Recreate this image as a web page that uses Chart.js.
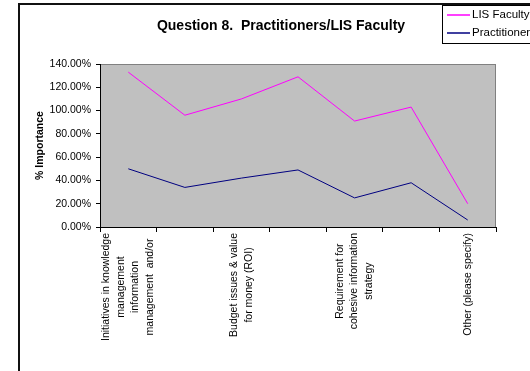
<!DOCTYPE html>
<html>
<head>
<meta charset="utf-8">
<script src="https://cdn.jsdelivr.net/npm/chart.js@4"></script>
<style>
  html, body { margin:0; padding:0; background:#fff; }
  #wrap { width:530px; height:371px; }
</style>
</head>
<body>
<div id="wrap"><canvas id="chartQ8"></canvas></div>
<script>
// Categorias (só 1, 3, 5 e 7 aparecem no eixo do original)
const categories = [
  ['Initiatives in knowledge', 'management', 'information', 'management  and/or'],
  '',
  ['Budget issues & value', 'for money (ROI)'],
  '',
  ['Requirement for', 'cohesive information', 'strategy'],
  '',
  ['Other (please specify)']
];
const seriesNames   = ['LIS Faculty', 'Practitioners'];
const lisFaculty    = [133, 96, 110, 129, 91, 103, 20];
const practitioners = [50, 34, 42, 49, 25, 38, 6];
const yMin = 0, yMax = 140, yStep = 20;
const titleText = 'Question 8.  Practitioners/LIS Faculty';
const yTitle = '% Importance';

// Paleta / fonte
const pink = '#FF00FF', navy = '#000080';
const FONT = '"Liberation Sans", Arial, sans-serif';

// Moldura, fundo cinza, título, legenda e rótulos do eixo X
const excelFrame = {
  id: 'excelFrame',
  beforeDraw(chart) {
    const { ctx, chartArea: a } = chart;
    ctx.save();
    ctx.fillStyle = '#C0C0C0';
    ctx.fillRect(a.left, a.top, a.right - a.left, a.bottom - a.top);
    ctx.strokeStyle = '#808080';
    ctx.lineWidth = 1;
    ctx.strokeRect(a.left + 0.5, a.top + 0.5, a.right - a.left - 1, a.bottom - a.top);
    ctx.restore();
  },
  afterDraw(chart) {
    const { ctx } = chart;
    const xs = chart.scales.x;
    ctx.save();

    // borda externa
    ctx.strokeStyle = '#111';
    ctx.lineWidth = 2;
    ctx.beginPath();
    ctx.moveTo(19, 371); ctx.lineTo(19, 4); ctx.lineTo(530, 4);
    ctx.stroke();

    // título
    ctx.fillStyle = '#000';
    ctx.font = 'bold 14px ' + FONT;
    ctx.textAlign = 'center';
    ctx.textBaseline = 'middle';
    ctx.fillText(titleText, 281, 26);

    // legenda
    ctx.lineWidth = 1;
    ctx.strokeStyle = '#000';
    ctx.strokeRect(442.5, 5.5, 100, 38);
    const cols = [pink, navy];
    ctx.font = '11.5px ' + FONT;
    ctx.textAlign = 'left';
    ctx.lineWidth = 1.5;
    seriesNames.forEach((name, i) => {
      const y = 15 + i * 18;
      ctx.strokeStyle = cols[i];
      ctx.beginPath(); ctx.moveTo(447, y); ctx.lineTo(470, y); ctx.stroke();
      ctx.fillStyle = '#000';
      ctx.fillText(name, 472, y);
    });

    // rótulos do eixo X (verticais, linhas centradas no ponto)
    ctx.font = '10.5px ' + FONT;
    ctx.textAlign = 'center';
    const lh = 14.5;
    categories.forEach((lab, i) => {
      const lines = Array.isArray(lab) ? lab : [lab];
      if (!lines.join('')) return;
      const x = xs.getPixelForValue(i);
      const w = Math.max(...lines.map(s => ctx.measureText(s).width));
      const cy = 233 + w / 2;
      lines.forEach((s, j) => {
        ctx.save();
        ctx.translate(x + (j - (lines.length - 1) / 2) * lh, cy);
        ctx.rotate(-Math.PI / 2);
        ctx.fillText(s, 0, 0);
        ctx.restore();
      });
    });
    ctx.restore();
  }
};

new Chart(document.getElementById('chartQ8'), {
  type: 'line',
  data: {
    labels: categories,
    datasets: [
      { label: seriesNames[0], data: lisFaculty, borderColor: pink, backgroundColor: pink,
        borderWidth: 1, pointRadius: 0, tension: 0, fill: false },
      { label: seriesNames[1], data: practitioners, borderColor: navy, backgroundColor: navy,
        borderWidth: 1, pointRadius: 0, tension: 0, fill: false }
    ]
  },
  options: {
    responsive: true, maintainAspectRatio: false, animation: false,
    layout: { padding: { left: 0, right: 34, top: 64, bottom: 0 } },
    scales: {
      x: {
        type: 'category', offset: true,
        grid: { offset: true, drawOnChartArea: false, drawTicks: true, tickLength: 5, color: '#000' },
        border: { color: '#000', width: 1 },
        ticks: { display: false },
        afterFit: s => { s.height = 371 - 227; }
      },
      y: {
        min: yMin, max: yMax,
        ticks: { stepSize: yStep, color: '#000', padding: 5,
                 font: { family: FONT, size: 10.5 },
                 callback: v => v.toFixed(2) + '%' },
        grid: { drawOnChartArea: false, drawTicks: true, tickLength: 4, color: '#000' },
        border: { color: '#000', width: 1 },
        title: { display: true, text: yTitle, color: '#000',
                 font: { family: FONT, size: 10.5, weight: 'bold' },
                 padding: { top: 34, bottom: 0 } },
        afterFit: s => { s.width = 100; }
      }
    },
    plugins: { legend: { display: false }, title: { display: false }, tooltip: { enabled: false } }
  },
  plugins: [excelFrame]
});
</script>
</body>
</html>
